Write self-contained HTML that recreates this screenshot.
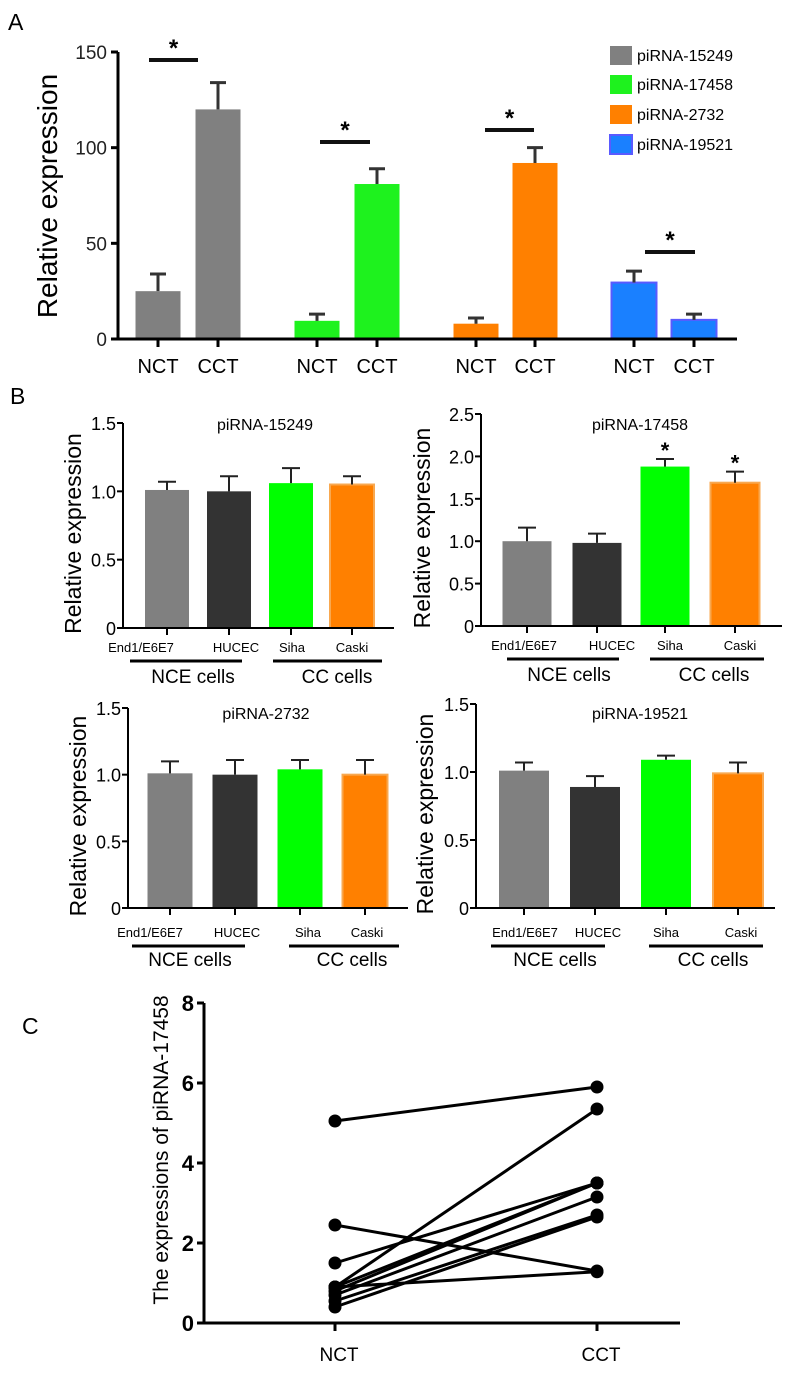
<!DOCTYPE html>
<html><head><meta charset="utf-8"><style>
body{margin:0;background:#fff;}
svg{display:block;font-family:"Liberation Sans",sans-serif;}
.n{font-family:"Liberation Sans Narrow","Liberation Sans",sans-serif;}
</style></head><body>
<svg id="fig" width="787" height="1374" viewBox="0 0 787 1374">
<text x="8" y="30" font-size="23">A</text>
<text x="10" y="404" font-size="23">B</text>
<text x="22" y="1034" font-size="23">C</text>
<g id="pa"></g>
<g id="pb"></g>
<g id="pc"></g>
</svg>
<script>
// ---------- Panel A data ----------
const aCategories = ["NCT","CCT","NCT","CCT","NCT","CCT","NCT","CCT"];
const aValues = [25,120,9.5,81,8,92,29.5,10];
const aErrors = [9,14,3.5,8,3,8,6,3];
const aTicks = [0,50,100,150];
const aSeries = ["piRNA-15249","piRNA-17458","piRNA-2732","piRNA-19521"];
// ---------- Panel B data ----------
const bCells = ["End1/E6E7","HUCEC","Siha","Caski"];
const bTitles = ["piRNA-15249","piRNA-17458","piRNA-2732","piRNA-19521"];
const bValues15249 = [1.01,1.0,1.06,1.05];
const bErrors15249 = [0.06,0.11,0.11,0.06];
const bValues17458 = [1.0,0.98,1.88,1.69];
const bErrors17458 = [0.16,0.11,0.09,0.13];
const bValues2732 = [1.01,1.0,1.04,1.0];
const bErrors2732 = [0.09,0.11,0.07,0.11];
const bValues19521 = [1.01,0.89,1.09,0.99];
const bErrors19521 = [0.06,0.08,0.03,0.08];
const bTicks15 = ["0","0.5","1.0","1.5"];
const bTicks25 = ["0","0.5","1.0","1.5","2.0","2.5"];
// ---------- Panel C data ----------
const cNCT = [5.05,2.45,1.5,0.9,0.9,0.8,0.7,0.55,0.4,0.9];
const cCCT = [5.9,1.3,3.5,5.35,3.5,3.5,3.15,2.7,2.65,1.28];
const cTicks = [0,2,4,6,8];
const cGroups = ["NCT","CCT"];

const NS="http://www.w3.org/2000/svg";
function mk(parent,tag,attrs,text){const e=document.createElementNS(NS,tag);for(const k in attrs)e.setAttribute(k,attrs[k]);if(text!==undefined)e.textContent=text;parent.appendChild(e);return e;}

// ===== Panel A =====
(function(){
const g=document.getElementById('pa');
const y0=339,y150=52,yA=v=>y0-(y0-y150)*v/150;
const xs=[158,218,317,377,476,535,634,694], bw=45;
const fills=["#808080","#808080","#1ef21e","#1ef21e","#ff8000","#ff8000","#1a80ff","#1a80ff"];
for(let i=0;i<aValues.length;i++){
  const top=yA(aValues[i]);
  const r=mk(g,'rect',{x:xs[i]-bw/2,y:top,width:bw,height:y0-top,fill:fills[i],stroke:i>=6?"#5a5aff":"none","stroke-width":2});
  
  
  const et=yA(aValues[i]+aErrors[i]);
  const e=mk(g,'path',{d:`M${xs[i]} ${top}V${et}M${xs[i]-8} ${et}H${xs[i]+8}`,stroke:"#333",'stroke-width':3,fill:"none"});
  
  
  mk(g,'line',{x1:xs[i],y1:y0,x2:xs[i],y2:y0+8,stroke:"#000","stroke-width":3});
  const t=mk(g,'text',{x:xs[i],y:373,'font-size':20,'text-anchor':'middle',class:'n'},aCategories[i]);
  
  
}
mk(g,'path',{d:`M118 ${y150}V${y0}H737`,stroke:"#000","stroke-width":3,fill:"none"});
aTicks.forEach(v=>{const y=yA(v);mk(g,'line',{x1:111,y1:y,x2:118,y2:y,stroke:"#000","stroke-width":3});
  const t=mk(g,'text',{x:107,y:y+7,'font-size':19,'text-anchor':'end',class:'n',fill:'#222'},v);
  
  });
const yt=mk(g,'text',{x:0,y:0,'font-size':28,'text-anchor':'middle',transform:'translate(57,196) rotate(-90)'},'Relative expression');


const sig=[[149,198,60],[320,370,142],[485,534,130],[645,695,252]];
sig.forEach(s=>{mk(g,'line',{x1:s[0],y1:s[2],x2:s[1],y2:s[2],stroke:"#111","stroke-width":4});
  const t=mk(g,'text',{x:(s[0]+s[1])/2,y:s[2]-4,'font-size':24,'font-weight':'bold','text-anchor':'middle'},'*');
  
  });
const lc=["#808080","#1ef21e","#ff8000","#1a80ff"], ly=[46,75,105,135];
aSeries.forEach((s,i)=>{mk(g,'rect',{x:610,y:ly[i],width:22,height:19,fill:lc[i],stroke:i==3?"#5a5aff":"none","stroke-width":2});
  const t=mk(g,'text',{x:637,y:ly[i]+15,'font-size':16,class:'n'},s);
  
  });
})();

// ===== Panel B =====
(function(){
const g=document.getElementById('pb');
const cfg=[
 {vals:bValues15249,errs:bErrors15249,ticks:bTicks15,ax:123,y0:628,ytop:423,vmax:1.5,bars:[167,229,291,352],bw:44,xend:394,tx:265,ty:430,lab:[141,236,292,352],ly:652,l1:[130,242],l2:[273,382],lly:661,nce:193,cc:337,gy:683,yt:73,star:[]},
 {vals:bValues17458,errs:bErrors17458,ticks:bTicks25,ax:481,y0:626,ytop:414,vmax:2.5,bars:[527,597,665,735],bw:49,xend:782,tx:640,ty:430,lab:[524,612,670,740],ly:650,l1:[507,619],l2:[650,764],lly:659,nce:569,cc:714,gy:681,yt:422,star:[2,3]},
 {vals:bValues2732,errs:bErrors2732,ticks:bTicks15,ax:128,y0:908,ytop:708,vmax:1.5,bars:[170,235,300,365],bw:45,xend:408,tx:266,ty:719,lab:[150,237,308,367],ly:937,l1:[132,245],l2:[289,399],lly:946,nce:190,cc:352,gy:966,yt:78,star:[]},
 {vals:bValues19521,errs:bErrors19521,ticks:bTicks15,ax:476,y0:908,ytop:704,vmax:1.5,bars:[524,595,666,738],bw:50,xend:775,tx:640,ty:719,lab:[525,598,666,741],ly:937,l1:[491,605],l2:[649,763],lly:946,nce:555,cc:713,gy:966,yt:425,star:[]}
];
const fills=["#808080","#333333","#00ff00","#ff8000"];
cfg.forEach((c,k)=>{
  const sy=v=>c.y0-(c.y0-c.ytop)*v/c.vmax;
  const sub=mk(g,'g',{});
  
  
  c.vals.forEach((v,i)=>{
    const top=sy(v);
    const r=mk(sub,'rect',{x:c.bars[i]-c.bw/2,y:top,width:c.bw,height:c.y0-top,fill:fills[i],stroke:i==3?"#f8a850":"none","stroke-width":2});
    
    
    const et=sy(v+c.errs[i]);
    mk(sub,'path',{d:`M${c.bars[i]} ${top}V${et}M${c.bars[i]-9} ${et}H${c.bars[i]+9}`,stroke:"#222","stroke-width":2,fill:"none"});
    mk(sub,'line',{x1:c.bars[i],y1:c.y0,x2:c.bars[i],y2:c.y0+7,stroke:"#000","stroke-width":2});
    const t=mk(sub,'text',{x:c.lab[i],y:c.ly,'font-size':13,'text-anchor':'middle',class:'n'},bCells[i]);
    
    
  });
  c.star.forEach(i=>{const s=mk(sub,'text',{x:c.bars[i],y:sy(c.vals[i]+c.errs[i])-1,'font-size':22,'font-weight':'bold','text-anchor':'middle'},'*');
    
    });
  mk(sub,'path',{d:`M${c.ax} ${c.ytop}V${c.y0}H${c.xend}`,stroke:"#000","stroke-width":2,fill:"none"});
  c.ticks.forEach((tl,i)=>{const y=sy(parseFloat(tl));mk(sub,'line',{x1:c.ax-6,y1:y,x2:c.ax,y2:y,stroke:"#000","stroke-width":2});
    const t=mk(sub,'text',{x:c.ax-7,y:y+7,'font-size':18,'text-anchor':'end',class:'n'},tl);
    
    });
  const ti=mk(sub,'text',{x:c.tx,y:c.ty,'font-size':16,'text-anchor':'middle',class:'n'},bTitles[k]);
  
  
  mk(sub,'line',{x1:c.l1[0],y1:c.lly,x2:c.l1[1],y2:c.lly,stroke:"#000","stroke-width":3});
  mk(sub,'line',{x1:c.l2[0],y1:c.lly,x2:c.l2[1],y2:c.lly,stroke:"#000","stroke-width":3});
  const n=mk(sub,'text',{x:c.nce,y:c.gy,'font-size':19,'text-anchor':'middle',class:'n'},'NCE cells');
  
  
  const cc=mk(sub,'text',{x:c.cc,y:c.gy,'font-size':19,'text-anchor':'middle',class:'n'},'CC cells');
  
  
  const yt=mk(sub,'text',{x:0,y:0,'font-size':23,'text-anchor':'middle',transform:`translate(${c.yt+8},${(c.ytop+c.y0)/2+8}) rotate(-90)`},'Relative expression');
  
  
});
})();

// ===== Panel C =====
(function(){
const g=document.getElementById('pc');
const y0=1323,per=40,sy=v=>y0-per*v;
const gx=[335,597];
mk(g,'path',{d:`M204 ${sy(8)}V${y0}H680`,stroke:"#000","stroke-width":3,fill:"none"});
cTicks.forEach(v=>{mk(g,'line',{x1:197,y1:sy(v),x2:204,y2:sy(v),stroke:"#000","stroke-width":3});
  const t=mk(g,'text',{x:194,y:sy(v)+8,'font-size':22,'font-weight':'bold','text-anchor':'end'},v);
  
  });
cGroups.forEach((s,i)=>{mk(g,'line',{x1:gx[i],y1:y0,x2:gx[i],y2:y0+8,stroke:"#000","stroke-width":3});
  const t=mk(g,'text',{x:gx[i]+4,y:1361,'font-size':19,'text-anchor':'middle'},s);
  
  });
for(let i=0;i<cNCT.length;i++){
  const l=mk(g,'line',{x1:gx[0],y1:sy(cNCT[i]),x2:gx[1],y2:sy(cCCT[i]),stroke:"#000","stroke-width":3});
  
  
}
for(let i=0;i<cNCT.length;i++){
  const a=mk(g,'circle',{cx:gx[0],cy:sy(cNCT[i]),r:6.5,fill:"#000"});
  
  
  const b=mk(g,'circle',{cx:gx[1],cy:sy(cCCT[i]),r:6.5,fill:"#000"});
  
  
}
const yt=mk(g,'text',{x:0,y:0,'font-size':21,'text-anchor':'middle',transform:'translate(168,1150) rotate(-90)'},'The expressions of piRNA-17458');


})();
</script>
</body></html>
